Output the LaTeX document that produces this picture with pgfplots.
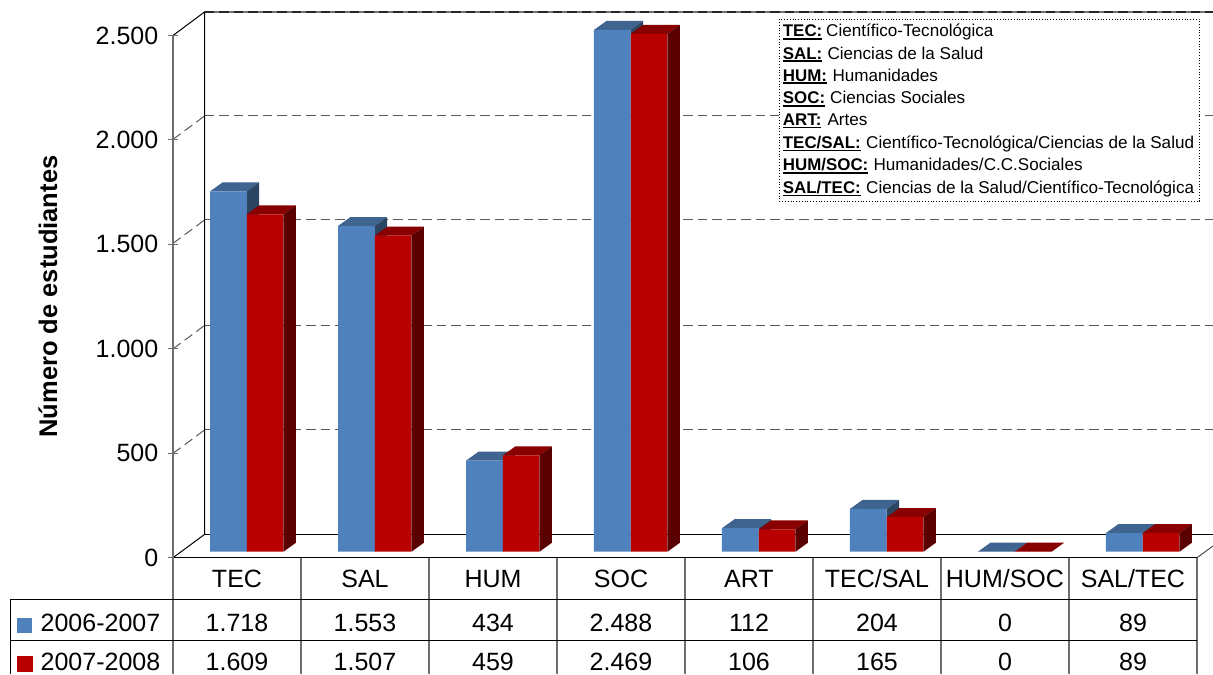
\documentclass[border=0pt]{standalone}
\usepackage{fontspec}
\setmainfont{Liberation Sans}
\usepackage{pgfplots}
\usepackage{pgfplotstable}
\pgfplotsset{compat=1.18}

\definecolor{azul}{HTML}{4F81BD}
\definecolor{azultop}{HTML}{3E648F}
\definecolor{azullado}{HTML}{2B4562}
\definecolor{rojo}{HTML}{B80000}
\definecolor{rojotop}{HTML}{880000}
\definecolor{rojolado}{HTML}{5A0000}
\definecolor{linea}{HTML}{6E6E6E}

\newcommand{\grande}{\fontsize{25}{30}\selectfont}
\newcommand{\chica}{\fontsize{17.1}{20}\selectfont}
\newcommand{\etq}[1]{\vtop{\hbox{\fontsize{16.9}{20}\selectfont\textbf{#1}}\kern0.8pt\hrule height 1.6pt}}

\pgfplotstableread{
i a b
0 1718 1609
1 1553 1507
2 434 459
3 2488 2469
4 112 106
5 204 165
6 0 0
7 89 89
}\datos

% caras superior y lateral de cada barra; 1 categoria = 128 px, 1 px = 4.787 unidades
\newcommand{\caras}[4]{%
  \pgfplotsinvokeforeach{0,...,7}{
    \pgfplotstablegetelem{##1}{#1}\of\datos
    \pgfmathsetmacro\yt{28.7+\pgfplotsretval*1.004}
    \pgfmathsetmacro\xa{##1+(#2)/128}
    \pgfmathsetmacro\xb{\xa+36.75/128}
    \pgfmathsetmacro\xc{\xa+12.5/128}
    \pgfmathsetmacro\xd{\xb+12.5/128}
    \pgfmathsetmacro\ytt{\yt+43}
    \addplot[draw=none,fill=#3,forget plot] coordinates {(\xa,\yt) (\xb,\yt) (\xd,\ytt) (\xc,\ytt)};
    \addplot[draw=none,fill=#4,forget plot] coordinates {(\xb,28.7) (\xd,71.7) (\xd,\ytt) (\xb,\yt)};
  }
}

\begin{document}
\begin{tikzpicture}
% coordenadas de la escena en px de la imagen
\begin{scope}[shift={(-173pt,557.7pt)},x=1pt,y=-1pt]
  \useasboundingbox (0,0) rectangle (1213,674);
  \foreach \g in {116,220,325.5,430} {
    \draw[black!65,line width=1pt,dash pattern=on 9.5pt off 5pt] (204.5,\g) -- (1213,\g);
    \draw[black!65,line width=1pt,dash pattern=on 9.5pt off 5pt] (173,\g+23.4) -- (204.5,\g);
  }
  \draw[black!55,line width=1.2pt] (204.5,12) -- (1213,12);
  \draw[black!85,line width=1.2pt,dash pattern=on 9.5pt off 5pt] (204.5,12) -- (1213,12);
  \draw[black,line width=1pt] (173,35.5) -- (204.5,12) -- (204.5,534.5) -- (173,557.7);
  \draw[black,line width=1pt] (204.5,534.5) -- (1213,534.5);
  \draw[black!70,line width=1pt] (1197,557.7) -- (1213,546);
\end{scope}

\begin{axis}[
    at={(0pt,0pt)},
    anchor=origin,
    scale only axis,
    width=1024pt,
    height=522.2pt,
    xmin=0, xmax=8,
    ymin=0, ymax=2500,
    clip=false,
    axis x line=bottom,
    axis y line=left,
    axis line style={-},
    x axis line style={black,line width=1pt},
    y axis line style={linea,line width=1.5pt},
    xtick={0.5,1.5,...,7.5},
    xticklabels={TEC,SAL,HUM,SOC,ART,TEC/SAL,HUM/SOC,SAL/TEC},
    xtick style={draw=none},
    xticklabel style={font=\grande,anchor=base,yshift=-25pt},
    ytick={0,500,...,2500},
    ytick style={linea,line width=1pt},
    major tick length=10pt,
    yticklabel style={font=\grande,inner sep=0pt,xshift=-9.5pt,
      /pgf/number format/.cd,1000 sep={.},assume math mode=true},
    scaled y ticks=false,
    ylabel={\textbf{Número de estudiantes}},
    ylabel style={font=\fontsize{25.5}{30}\selectfont,at={(axis description cs:0,0.5)},anchor=center,yshift=125pt},
]
\caras{a}{37}{azultop}{azullado}
\addplot[ybar,bar width=36.75pt,bar shift=-8.6pt,draw=none,fill=azul,yshift=6pt,forget plot]
  table[x expr=\thisrow{i}+0.5,y expr=\thisrow{a}*1.004] {\datos};
\caras{b}{73.75}{rojotop}{rojolado}
\addplot[ybar,bar width=36.25pt,bar shift=28pt,draw=none,fill=rojo,yshift=6pt,forget plot]
  table[x expr=\thisrow{i}+0.5,y expr=\thisrow{b}*1.004] {\datos};
\end{axis}

\begin{scope}[shift={(-173pt,557.7pt)},x=1pt,y=-1pt]
  % tabla de datos
  \foreach \k in {0,...,8} \draw[linea,line width=1.2pt] (173+128*\k,557.7) -- (173+128*\k,674);
  \draw[black,line width=1pt] (10.7,674) -- (10.7,600) -- (1197,600);
  \draw[black,line width=1pt] (10.7,640.3) -- (1197,640.3);
  \fill[azul] (17,617.7) rectangle (32,632.7);
  \fill[rojo] (17,656) rectangle (33,671.5);
  \node[font=\grande,anchor=base west,inner sep=0pt] at (40.5,631.5) {2006-2007};
  \node[font=\grande,anchor=base west,inner sep=0pt] at (40.5,671) {2007-2008};
  \foreach \v [count=\k from 0] in {1.718,1.553,434,2.488,112,204,0,89}
    \node[font=\grande,anchor=base,inner sep=0pt] at (237+128*\k,631.5) {\v};
  \foreach \v [count=\k from 0] in {1.609,1.507,459,2.469,106,165,0,89}
    \node[font=\grande,anchor=base,inner sep=0pt] at (237+128*\k,671) {\v};
  % cuadro de siglas
  \draw[black,fill=white,line width=0.8pt,dotted] (779.3,19.3) rectangle (1199.3,201.3);
  \foreach \e/\t/\xt/\yy in {
      TEC:/Científico-Tecnológica/826/37,
      SAL:/Ciencias de la Salud/827.3/59.5,
      HUM:/Humanidades/832.3/81.5,
      SOC:/Ciencias Sociales/830/104,
      ART:/Artes/827.3/126,
      TEC{/}SAL:/Científico-Tecnológica{/}Ciencias de la Salud/866/148.5,
      HUM{/}SOC:/Humanidades{/}C.C.Sociales/873.3/171,
      SAL{/}TEC:/Ciencias de la Salud{/}Científico-Tecnológica/866/193.5} {
    \node[font=\chica,anchor=base west,inner sep=0pt] at (782.7,\yy) {\etq{\e}};
    \node[font=\chica,anchor=base west,inner sep=0pt] at (\xt,\yy) {\t};
  }
\end{scope}
\end{tikzpicture}
\end{document}
